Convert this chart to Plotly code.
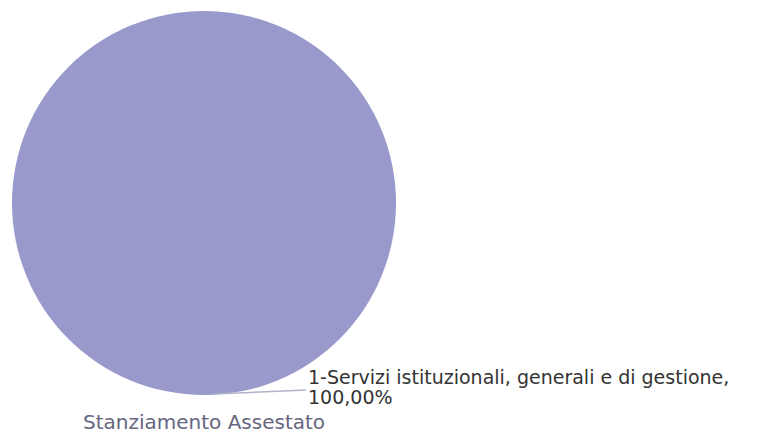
import plotly.graph_objects as go

categories = ["1-Servizi istituzionali, generali e di gestione"]
values = [100.0]
percent_labels = ["100,00%"]
title_text = "Stanziamento Assestato"

# page has an 8px body margin; figure is sized to fill the rest of the window
OFF = 8
FW, FH = 765 - OFF, 434 - OFF


def px(x):
    return (x - OFF) / FW


def py(y):
    return (FH - (y - OFF)) / FH


fig = go.Figure()
fig.add_trace(go.Pie(
    labels=categories,
    values=values,
    sort=False,
    textinfo="none",
    hoverinfo="label+percent",
    marker=dict(colors=["#9999CC"], line=dict(color="#FFFFFF", width=0)),
    domain=dict(x=[px(12), px(396)], y=[py(395), py(11)]),
    showlegend=False,
))

# leader line
fig.add_shape(type="line", xref="paper", yref="paper",
              x0=px(214), y0=py(394), x1=px(306), y1=py(390),
              line=dict(color="#B0B4C8", width=1.5))

label_font = dict(family="DejaVu Sans", size=19, color="#333333")
fig.add_annotation(
    xref="paper", yref="paper", x=px(306), y=py(364),
    xanchor="left", yanchor="top", align="left", showarrow=False,
    text=f"{categories[0]},", font=label_font,
)
fig.add_annotation(
    xref="paper", yref="paper", x=px(306), y=py(384),
    xanchor="left", yanchor="top", align="left", showarrow=False,
    text=percent_labels[0], font=label_font,
)

fig.add_annotation(
    xref="paper", yref="paper", x=px(81), y=py(408),
    xanchor="left", yanchor="top", showarrow=False,
    text=title_text,
    font=dict(family="DejaVu Sans", size=20, color="#666680"),
)

fig.update_layout(
    width=FW, height=FH,
    margin=dict(l=0, r=0, t=0, b=0),
    paper_bgcolor="white", plot_bgcolor="white",
)

fig.write_html("out.html")
